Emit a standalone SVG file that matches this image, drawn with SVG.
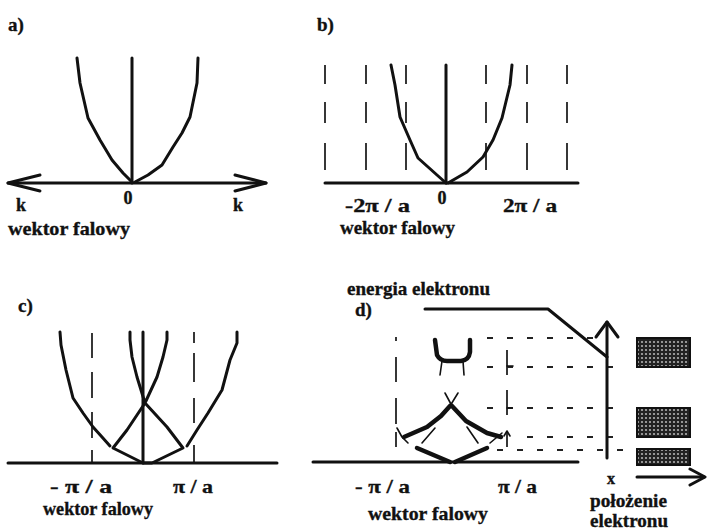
<svg xmlns="http://www.w3.org/2000/svg" width="707" height="531" viewBox="0 0 707 531">
<defs>
<style>
.t{font-family:"Liberation Serif","Times New Roman",serif;font-weight:bold;fill:#111;stroke:#111;stroke-width:0.35}
.lbl{font-size:19px}
.ax{font-size:18px}
.cap{font-size:19px}
.c{fill:none;stroke:#111;stroke-width:3;stroke-linejoin:round;stroke-linecap:round}
.ck{fill:none;stroke:#111;stroke-width:4.5;stroke-linejoin:round;stroke-linecap:round}
.th{fill:none;stroke:#111;stroke-width:1.6;stroke-linecap:round;stroke-linejoin:round}
.ds{fill:none;stroke:#222;stroke-width:1.8}
.dot{fill:none;stroke:#222;stroke-width:2;stroke-dasharray:6 14}
.band{fill:url(#stip);stroke:#111;stroke-width:2}
</style>
<pattern id="stip" width="4" height="4" patternUnits="userSpaceOnUse">
<rect width="4" height="4" fill="#222"/>
<circle cx="2" cy="2" r="1.1" fill="#b0b0b0"/>
</pattern>
<path id="db" d="M0,65V84M0,102V123M0,143V170"/>
</defs>

<g id="panel-a">
<text class="t lbl" x="8" y="31">a)</text>
<path class="c" d="M8,183H266"/>
<path class="c" d="M40,175L8,183L40,191"/>
<path class="c" d="M235,175L266,183L235,191"/>
<path class="c" d="M132,58V183"/>
<path class="c" d="M77,58L80,83L88,118L100,140L112,160L123,173L132,182"/>
<path class="c" d="M198,58L197,83L190,117L182,133L173,147L162,165L148,175L135,182"/>
<text class="t ax" x="21" y="211" text-anchor="middle">k</text>
<text class="t ax" x="128" y="204" text-anchor="middle">0</text>
<text class="t ax" x="238" y="211" text-anchor="middle">k</text>
<text class="t cap" x="8" y="235" textLength="122" lengthAdjust="spacingAndGlyphs">wektor falowy</text>
</g>

<g id="panel-b">
<text class="t lbl" x="317" y="31">b)</text>
<g class="ds">
<use href="#db" x="325"/><use href="#db" x="366"/><use href="#db" x="406"/>
<use href="#db" x="486"/><use href="#db" x="527"/><use href="#db" x="567"/>
</g>
<path class="c" d="M325,183H578"/>
<path class="c" d="M446,65V183"/>
<path class="c" d="M391,65L395,85L400,117L410,140L418,158L437,175L446,183"/>
<path class="c" d="M512,65L510,85L502,118L493,140L483,157L467,172L448,183"/>
<text class="t cap" x="345" y="212" textLength="65" lengthAdjust="spacingAndGlyphs">-2π / a</text>
<text class="t ax" x="442" y="204" text-anchor="middle">0</text>
<text class="t cap" x="503" y="212" textLength="54" lengthAdjust="spacingAndGlyphs">2π / a</text>
<text class="t cap" x="340" y="234" textLength="115" lengthAdjust="spacingAndGlyphs">wektor falowy</text>
</g>

<g id="panel-c">
<text class="t lbl" x="18" y="312">c)</text>
<path class="ds" d="M92,333V358M92,372V398M92,412V438M92,450V463"/>
<path class="ds" d="M194,332V343M194,353V382M194,398V423M194,445V463"/>
<path class="c" d="M8,463H277"/>
<path class="c" d="M143,332V463"/>
<path class="c" d="M60,332L61,345L66,370L73,398L83,413L93,427L102,437L110,446"/>
<path class="c" d="M237,332L237,343L230,360L222,390L208,413L197,430L187,446"/>
<path class="c" d="M167,332L167,340L163,357L157,377L145,403L127,430L113,448L143,463L152,463L183,448L167,427L145,403L137,377L132,357L130,340L130,332"/>
<text class="t cap" x="50" y="493" textLength="62" lengthAdjust="spacingAndGlyphs">- π / a</text>
<text class="t cap" x="173" y="493" textLength="40" lengthAdjust="spacingAndGlyphs">π / a</text>
<text class="t cap" x="43" y="515" textLength="110" lengthAdjust="spacingAndGlyphs">wektor falowy</text>
</g>

<g id="panel-d">
<text class="t cap" x="347" y="295" textLength="143" lengthAdjust="spacingAndGlyphs">energia elektronu</text>
<text class="t lbl" x="355" y="316">d)</text>
<path class="c" d="M425,309H548L607,357"/>
<g id="levels">
<path class="dot" d="M487,338H606"/>
<path class="dot" d="M487,367H616"/>
<path class="dot" d="M487,408H616"/>
<path class="dot" d="M527,437H616"/>
<path class="dot" d="M497,450H624"/>
</g>
<path class="ds" d="M396,337V341M396,357V382M396,398V424M396,432V447"/>
<path class="ds" d="M507,350V375M507,390V415M507,432V447"/>
<path class="th" d="M507,366H513M507,408H512M504,436L507,431L510,436"/>
<path class="c" d="M313,462H578"/>
<path class="c" d="M607,458V322"/>
<path class="c" d="M596,337L607,322L618,337"/>
<path class="ck" d="M435,340L437,355Q440,361 447,361H461Q469,360 470,352V340"/>
<path class="th" d="M442,361L440,375M463,361L464,375"/>
<path class="ck" d="M404,437L427,427L441,416L450,406"/>
<path class="th" d="M450,406L458,393M452,406L445,393"/>
<path class="ck" d="M452,406L466,421L487,433L501,437"/>
<path class="th" d="M397,428L402,437L408,443"/>
<path class="th" d="M422,443L435,428"/>
<path class="th" d="M467,427L478,443"/>
<path class="th" d="M490,443L502,433"/>
<path class="ck" d="M417,448L450,462M455,462L487,448"/>
<text class="t cap" x="355" y="493" textLength="55" lengthAdjust="spacingAndGlyphs">- π / a</text>
<text class="t cap" x="498" y="493" textLength="39" lengthAdjust="spacingAndGlyphs">π / a</text>
<text class="t cap" x="368" y="520" textLength="120" lengthAdjust="spacingAndGlyphs">wektor falowy</text>
<rect class="band" x="637" y="338" width="53" height="29"/>
<rect class="band" x="637" y="408" width="53" height="29"/>
<rect class="band" x="637" y="449" width="53" height="16"/>
<path class="c" d="M637,477H704"/>
<path class="c" d="M690,469L705,477L690,485"/>
<text class="t" style="font-size:16px" x="611" y="484" text-anchor="middle">x</text>
<text class="t cap" x="590" y="507" textLength="77" lengthAdjust="spacingAndGlyphs">położenie</text>
<text class="t cap" x="590" y="527" textLength="78" lengthAdjust="spacingAndGlyphs">elektronu</text>
</g>
</svg>
